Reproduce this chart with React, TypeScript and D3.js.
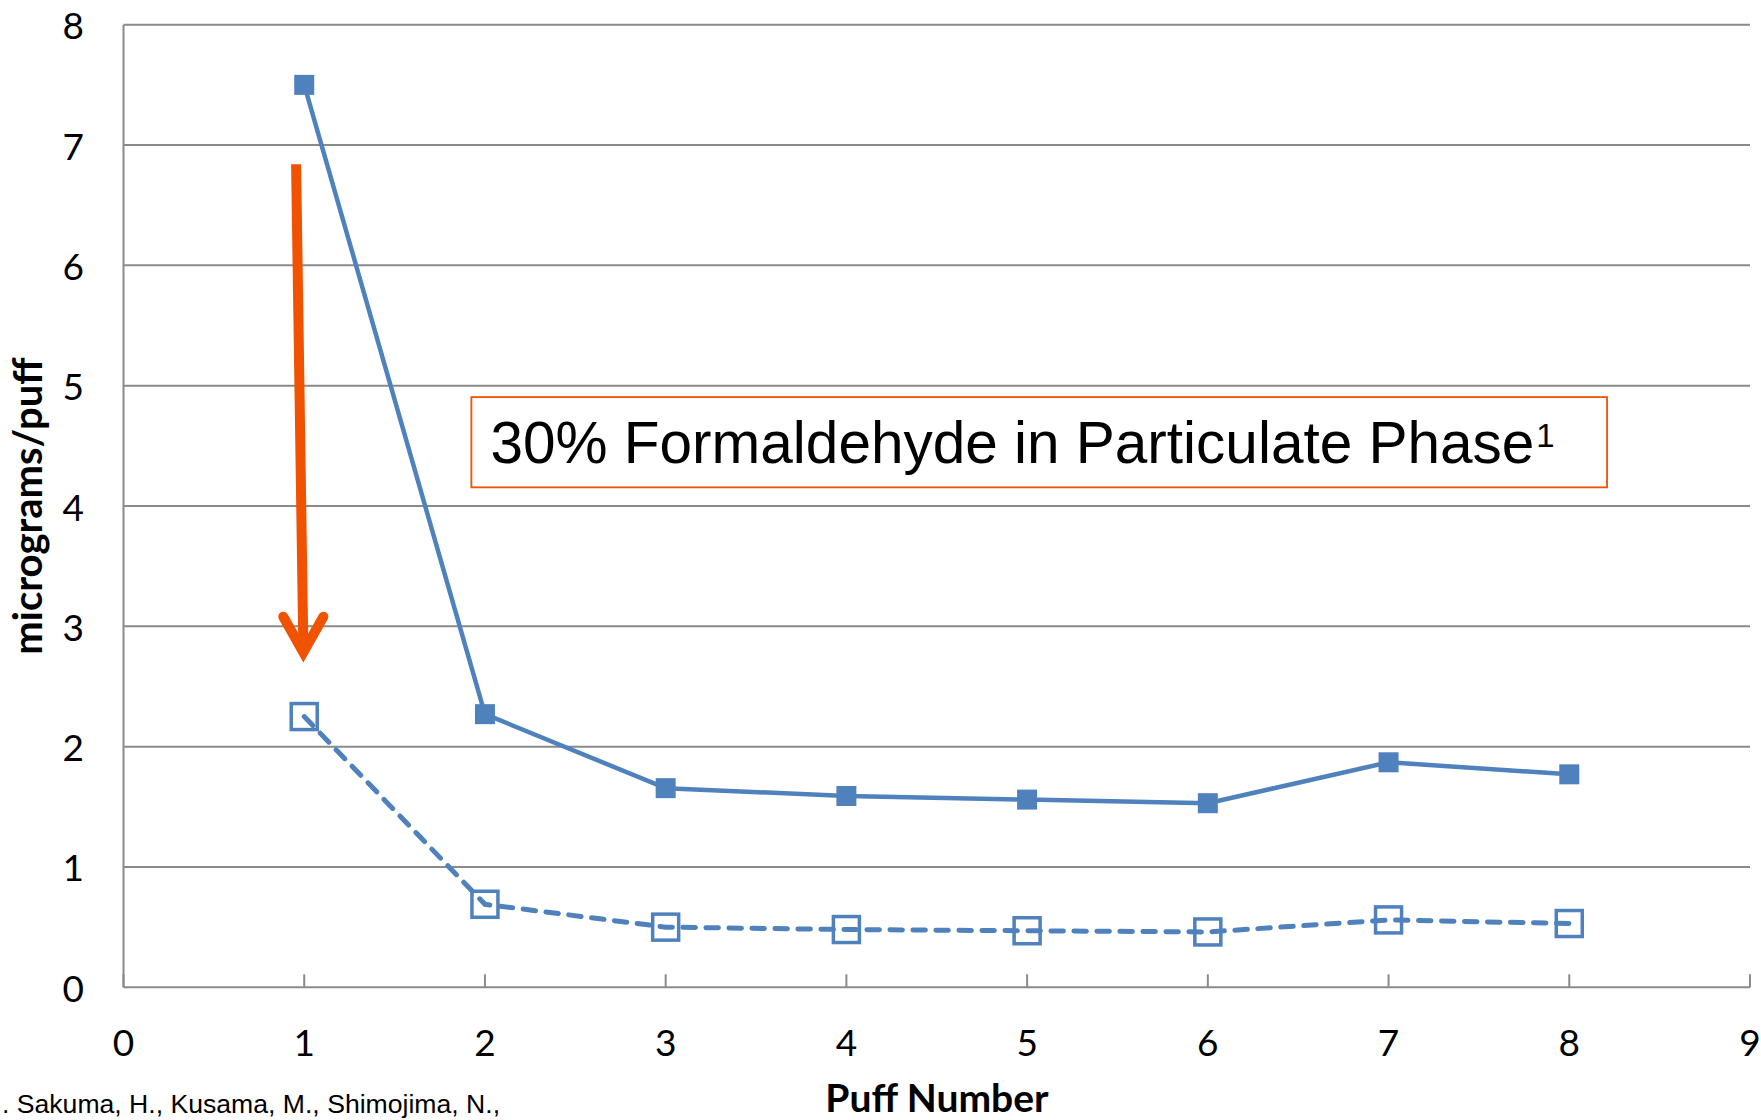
import React from "react";
import * as d3 from "d3";

// Puff-by-puff formaldehyde yield
const puffs = [1, 2, 3, 4, 5, 6, 7, 8];
const totalYield = [7.5, 2.27, 1.655, 1.59, 1.56, 1.53, 1.87, 1.77];
const particulateYield = [2.25, 0.69, 0.5, 0.48, 0.47, 0.46, 0.56, 0.53];
const xTicks = [0, 1, 2, 3, 4, 5, 6, 7, 8, 9];
const yTicks = [0, 1, 2, 3, 4, 5, 6, 7, 8];

const calloutText = "30% Formaldehyde in Particulate Phase";
const calloutNote = "1";
const citation = ". Sakuma, H., Kusama, M., Shimojima, N.,";

const W = 1761;
const H = 1120;
const BLUE = "#4F81BD";
const ORANGE = "#F05200";
const GRID = "#8A8A8A";

export default function App() {
  const x = d3.scaleLinear().domain([0, 9]).range([123.5, 1750]);
  const y = d3.scaleLinear().domain([0, 8]).range([987.3, 24.7]);

  const solid = puffs.map((p, i) => [x(p), y(totalYield[i])] as [number, number]);
  const dashed = puffs.map((p, i) => [x(p), y(particulateYield[i])] as [number, number]);
  const line = d3.line();

  // arrow annotation, in data units
  const arrowTop: [number, number] = [x(0.955), y(6.84)];
  const arrowTip: [number, number] = [x(0.995), y(2.726)];
  const wingL: [number, number] = [x(0.884), y(3.08)];
  const wingR: [number, number] = [x(1.106), y(3.08)];

  // callout box, in data units
  const bx0 = x(1.925), bx1 = x(8.209), by0 = y(4.905), by1 = y(4.155);

  const filled = 20;
  const open = 26;

  return (
    <svg
      width={W}
      height={H}
      viewBox={`0 0 ${W} ${H}`}
      style={{ position: "absolute", left: 0, top: 0, background: "#fff" }}
    >
      {/* horizontal gridlines */}
      {yTicks.filter((t) => t > 0).map((t) => (
        <line key={t} x1={x(0)} x2={x(9)} y1={y(t)} y2={y(t)} stroke={GRID} strokeWidth={2} />
      ))}
      {/* axes */}
      <line x1={x(0)} x2={x(0)} y1={y(8)} y2={y(0)} stroke={GRID} strokeWidth={2} />
      <line x1={x(0)} x2={x(9)} y1={y(0)} y2={y(0)} stroke={GRID} strokeWidth={2} />
      {xTicks.map((t) => (
        <line key={t} x1={x(t)} x2={x(t)} y1={y(0)} y2={y(0) - 13} stroke={GRID} strokeWidth={2} />
      ))}

      {/* tick labels */}
      {yTicks.map((t) => (
        <text
          key={t}
          x={84}
          y={y(t)}
          textAnchor="end"
          dominantBaseline="central"
          fontFamily="Lato, Carlito, sans-serif"
          fontSize={37}
          fill="#000"
        >
          {t}
        </text>
      ))}
      {xTicks.map((t) => (
        <text
          key={t}
          x={x(t)}
          y={1056}
          textAnchor="middle"
          fontFamily="Lato, Carlito, sans-serif"
          fontSize={37}
          fill="#000"
        >
          {t}
        </text>
      ))}

      {/* axis titles */}
      <text
        transform={`translate(42, 506) rotate(-90)`}
        textAnchor="middle"
        fontFamily="Lato, Carlito, sans-serif"
        fontWeight="bold"
        fontSize={40}
        fill="#000"
      >
        micrograms/puff
      </text>
      <text
        x={937}
        y={1112}
        textAnchor="middle"
        fontFamily="Lato, Carlito, sans-serif"
        fontWeight="bold"
        fontSize={39}
        fill="#000"
      >
        Puff Number
      </text>

      {/* citation */}
      <text x={2} y={1112.7} fontFamily="'Liberation Sans', Arial, sans-serif" fontSize={26.6} fill="#000">
        {citation}
      </text>

      {/* total series */}
      <path d={line(solid) || ""} fill="none" stroke={BLUE} strokeWidth={4.5} strokeLinejoin="round" />
      {solid.map(([cx, cy], i) => (
        <rect key={i} x={cx - filled / 2} y={cy - filled / 2} width={filled} height={filled} fill={BLUE} />
      ))}

      {/* particulate series */}
      <path
        d={line(dashed) || ""}
        fill="none"
        stroke={BLUE}
        strokeWidth={5}
        strokeDasharray="12.5 10.5"
        strokeLinecap="round"
      />
      {dashed.map(([cx, cy], i) => (
        <rect
          key={i}
          x={cx - open / 2}
          y={cy - open / 2}
          width={open}
          height={open}
          fill="none"
          stroke={BLUE}
          strokeWidth={3.5}
        />
      ))}

      {/* arrow */}
      <line
        x1={arrowTop[0]}
        y1={arrowTop[1]}
        x2={arrowTip[0]}
        y2={arrowTip[1] - 14}
        stroke={ORANGE}
        strokeWidth={10}
      />
      <path
        d={`M${wingL[0]},${wingL[1]} L${arrowTip[0]},${arrowTip[1] - 7} L${wingR[0]},${wingR[1]}`}
        fill="none"
        stroke={ORANGE}
        strokeWidth={10}
        strokeLinecap="round"
        strokeLinejoin="miter"
        strokeMiterlimit={10}
      />

      {/* callout */}
      <rect x={bx0} y={by0} width={bx1 - bx0} height={by1 - by0} fill="#fff" stroke={ORANGE} strokeWidth={1.8} />
      <text x={490.5} y={463.3} fontFamily="'Liberation Sans', Arial, sans-serif" fontSize={58.5} fill="#000">
        {calloutText}
        <tspan fontSize={33} dx={2} dy={-16}>{calloutNote}</tspan>
      </text>
    </svg>
  );
}
